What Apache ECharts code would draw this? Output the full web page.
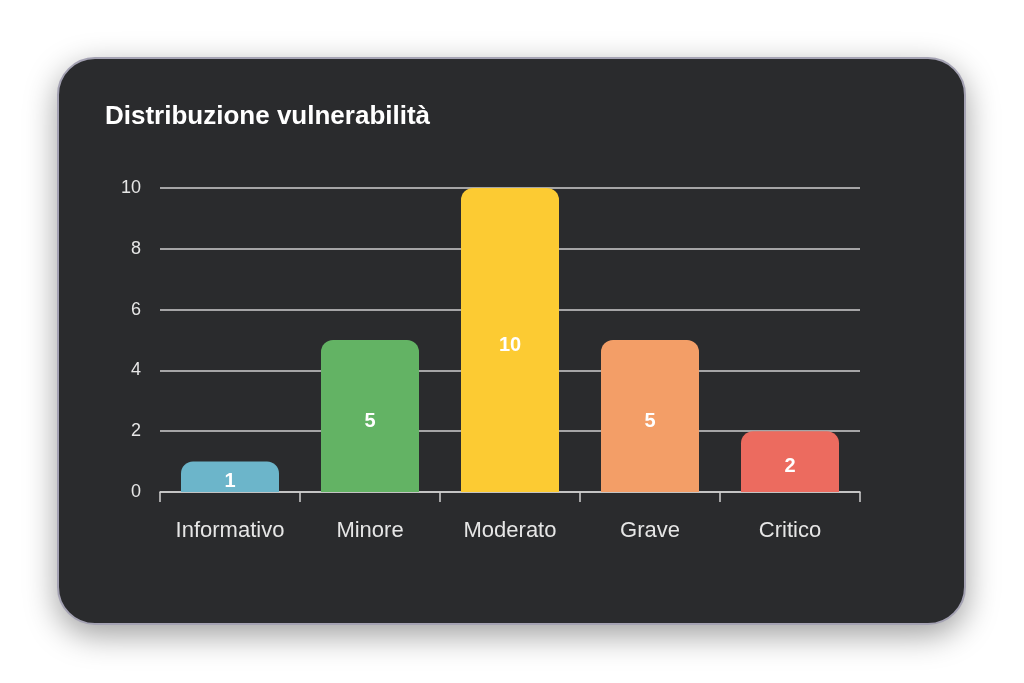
<!DOCTYPE html>
<html>
<head>
<meta charset="utf-8">
<script src="https://cdn.jsdelivr.net/npm/echarts@6/dist/echarts.min.js"></script>
<style>
html,body{margin:0;padding:0;background:#ffffff;width:1024px;height:683px;overflow:hidden;}
#card{position:absolute;left:57px;top:57px;width:905px;height:564px;background:#2a2b2d;border:2px solid #a4a2b3;border-radius:38px;box-shadow:0 10px 32px rgba(0,0,0,0.38);}
#chart{position:absolute;left:0;top:0;width:1024px;height:683px;}
</style>
</head>
<body>
<div id="card"></div>
<div id="chart"></div>
<script>
const titleText = "Distribuzione vulnerabilità";
const categories = ["Informativo", "Minore", "Moderato", "Grave", "Critico"];
const values = [1, 5, 10, 5, 2];
const barColors = ["#6cb5ca", "#63b364", "#fccb33", "#f39e67", "#ec6b5f"];
const yTicks = [0, 2, 4, 6, 8, 10];

const chart = echarts.init(document.getElementById('chart'), null, {renderer: 'canvas'});
const fontFam = "'Liberation Sans', Arial, sans-serif";
chart.setOption({
  backgroundColor: 'transparent',
  animation: false,
  title: {
    text: titleText,
    left: 105, top: 104, padding: 0,
    textStyle: {color: '#ffffff', fontSize: 26, fontWeight: 'bold', fontFamily: fontFam}
  },
  grid: {left: 160, right: 164, top: 188, bottom: 191, containLabel: false},
  xAxis: {
    type: 'category',
    data: categories,
    axisLine: {show: true, lineStyle: {color: '#cfcfcf', width: 1.5}},
    axisTick: {show: true, interval: 0, length: 10, lineStyle: {color: '#cfcfcf', width: 1.5}},
    axisLabel: {interval: 0, color: '#e6e6e6', fontSize: 22, fontFamily: fontFam, margin: 28}
  },
  yAxis: {
    type: 'value',
    min: 0, max: yTicks[yTicks.length - 1], interval: yTicks[1] - yTicks[0],
    axisLine: {show: false},
    axisTick: {show: false},
    splitLine: {lineStyle: {color: '#cfcfcf', width: 1.5}},
    axisLabel: {color: '#e6e6e6', fontSize: 18, fontFamily: fontFam, margin: 19}
  },
  series: [{
    type: 'bar',
    barWidth: '70%',
    data: values.map((v, i) => ({value: v, itemStyle: {color: barColors[i]}})),
    itemStyle: {borderRadius: [12, 12, 0, 0]},
    label: {
      show: true, position: 'inside', offset: [0, 5],
      color: '#ffffff', fontSize: 20, fontWeight: 'bold', fontFamily: fontFam
    }
  }]
});
</script>
</body>
</html>
